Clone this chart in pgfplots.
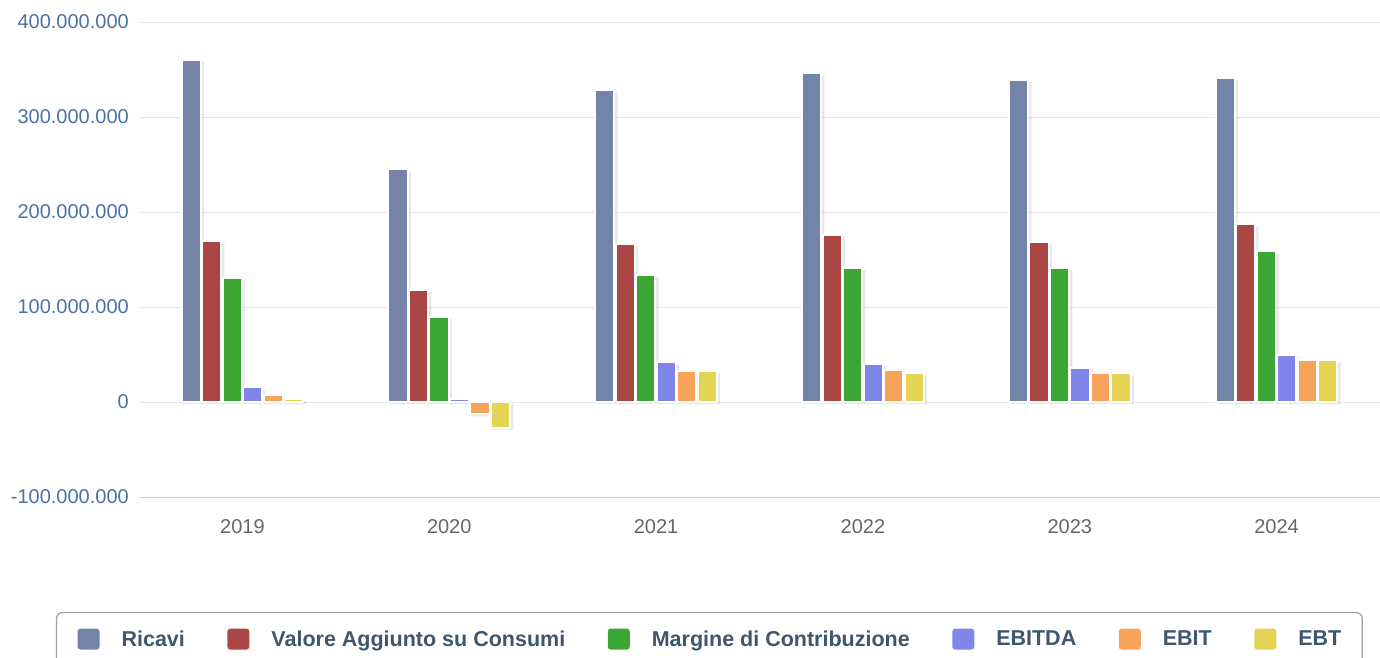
\documentclass[border=0pt]{standalone}
\usepackage{fontspec}
\setmainfont{Liberation Sans}
\usepackage{pgfplots}
\usepackage{pgfplotstable}
\pgfplotsset{compat=1.18}
\definecolor{cRic}{HTML}{7384A8}
\definecolor{cVal}{HTML}{AA4643}
\definecolor{cMar}{HTML}{3CA635}
\definecolor{cEbitda}{HTML}{8085E9}
\definecolor{cEbit}{HTML}{F7A35C}
\definecolor{cEbt}{HTML}{E4D354}
\definecolor{cYlab}{HTML}{4A72A5}
\definecolor{cXlab}{HTML}{666666}
\definecolor{cGrid}{HTML}{E6E6E6}
\definecolor{cAxis}{HTML}{C0D0E0}
\definecolor{cLeg}{HTML}{3E576F}
\definecolor{cLegB}{HTML}{A0A0A0}
\pgfplotstableread{
x ric val mar ebitda ebit ebt
0 360000000 170000000 131000000 15700000 7000000 3000000
1 245000000 118000000 90000000 3000000 -13000000 -27000000
2 328000000 166000000 134000000 42000000 32500000 32500000
3 346000000 176000000 141000000 40000000 34000000 30500000
4 339000000 168000000 141000000 36000000 30500000 30500000
5 341000000 187000000 158500000 49000000 44000000 44000000
}\data
\pgfplotsset{
  shad/.style={forget plot, draw=none, fill=black, fill opacity=0.09, bar width=21.5pt, yshift=-2pt, bar shift=#1},
  main/.style={draw=white, line width=2pt, bar width=19.3pt, bar shift=#1},
}
\begin{document}
\begin{tikzpicture}
\path[use as bounding box] (-139pt,-160pt) rectangle (1241pt,497pt);
\begin{axis}[
  scale only axis,
  width=1241pt, height=475pt,
  xmin=-0.5, xmax=5.5,
  ymin=-100000000, ymax=400000000,
  ytick={-100000000,0,100000000,200000000,300000000,400000000},
  scaled y ticks=false,
  yticklabel style={/pgf/number format/fixed, /pgf/number format/precision=0, /pgf/number format/1000 sep={.}, /pgf/number format/assume math mode=true},
  xtick=data,
  xticklabels={2019,2020,2021,2022,2023,2024},
  ybar,
  axis x line*=bottom,
  axis y line*=left,
  y axis line style={draw=none},
  x axis line style={draw=cAxis, line width=1pt},
  major tick length=0pt,
  ymajorgrids,
  grid style={draw=cGrid, line width=1pt},
  yticklabel style={font=\fontsize{20}{22}\selectfont, text=cYlab, inner sep=0pt, xshift=-10pt},
  xticklabel style={font=\fontsize{20}{22}\selectfont, text=cXlab, inner sep=0pt, yshift=-22pt},
  legend image code/.code={\fill[#1,draw=none,rounded corners=3pt] (0pt,-10.5pt) rectangle (22pt,10.5pt);},
  legend columns=6,
  legend cell align=left,
  legend style={at={(-0.0669,-0.2421)}, anchor=north west,
    draw=cLegB, line width=1.2pt, rounded corners=6pt,
    font=\fontsize{21.5}{24}\selectfont\bfseries, text=cLeg,
    inner xsep=21pt, inner ysep=16pt,
    nodes={inner sep=0pt},
    /tikz/every odd column/.append style={column sep=22pt},
    /tikz/every even column/.append style={column sep=42.5pt}},
]
\addplot[shad=-49.25pt] table[x=x,y=ric]{\data};
\addplot[shad=-28.75pt] table[x=x,y=val]{\data};
\addplot[shad=-8.25pt] table[x=x,y=mar]{\data};
\addplot[shad=12.25pt] table[x=x,y=ebitda]{\data};
\addplot[shad=32.75pt] table[x=x,y=ebit]{\data};
\addplot[shad=53.25pt] table[x=x,y=ebt]{\data};
\addplot[fill=cRic, main=-51.25pt] table[x=x,y=ric]{\data};
\addplot[fill=cVal, main=-30.75pt] table[x=x,y=val]{\data};
\addplot[fill=cMar, main=-10.25pt] table[x=x,y=mar]{\data};
\addplot[fill=cEbitda, main=10.25pt] table[x=x,y=ebitda]{\data};
\addplot[fill=cEbit, main=30.75pt] table[x=x,y=ebit]{\data};
\addplot[fill=cEbt, main=51.25pt] table[x=x,y=ebt]{\data};
\legend{Ricavi, Valore Aggiunto su Consumi, Margine di Contribuzione, EBITDA, EBIT, EBT}
\end{axis}
\end{tikzpicture}
\end{document}
